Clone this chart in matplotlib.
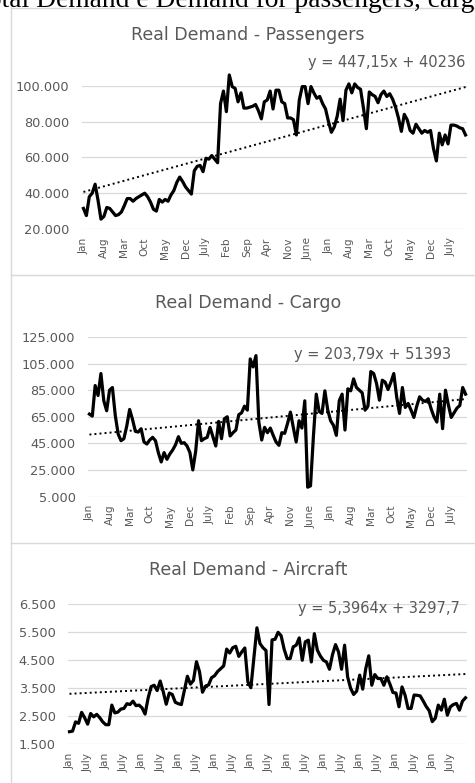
import numpy as np
import matplotlib
matplotlib.use("Agg")
import matplotlib.pyplot as plt
from matplotlib.lines import Line2D

# monthly series, 132 points each
passengers = [31500, 27500, 38000, 40000, 45000, 36000, 25500, 27000, 32000, 31500,
              29500, 27500, 28000, 29500, 33000, 37000, 37000, 35500, 37000, 38000,
              39000, 40000, 38000, 35000, 31000, 30000, 36500, 35000, 36500, 35500,
              39000, 41500, 46000, 49000, 46500, 43500, 41500, 39500, 52500, 55000,
              55500, 52000, 59500, 59000, 61000, 59000, 57000, 90000, 97000, 85500,
              106000, 99500, 98500, 91000, 96000, 87500, 87500, 88000, 88500, 89500,
              86000, 81500, 91000, 92000, 97000, 87000, 97500, 97500, 91000, 90000,
              82000, 82000, 81000, 72500, 92000, 99500, 99500, 90000, 99500, 96000,
              93000, 94000, 90000, 87000, 80000, 74000, 77000, 83000, 92500, 80500,
              97500, 101000, 96000, 101000, 99000, 98000, 87500, 76000, 96500, 95000,
              94000, 90500, 95000, 97000, 94000, 95500, 92500, 88000, 82000, 74500,
              84000, 81000, 75000, 73500, 78500, 76000, 73500, 75000, 74000, 75000,
              65000, 58000, 73500, 67000, 72500, 67500, 78000, 78000, 77500, 76500,
              76000, 72500]

cargo = [67000, 65500, 88500, 81000, 97500, 77000, 69500, 85000, 87000, 66000,
         52000, 47000, 48500, 58000, 70500, 63000, 54000, 53500, 56000, 46000,
         44500, 47500, 49500, 47000, 38000, 31000, 38000, 33000, 37000, 40000,
         44000, 50000, 45000, 45500, 43000, 38000, 25000, 39000, 62000, 47000,
         48500, 49500, 57000, 50000, 43000, 61500, 48500, 63500, 65000, 50500,
         53000, 55000, 66500, 68000, 73000, 70000, 108500, 102500, 111000, 61000,
         47500, 57000, 53000, 56500, 51000, 46000, 43500, 53000, 52500, 60000,
         68500, 57000, 46000, 62000, 56500, 77000, 12000, 13000, 50000, 82000,
         69000, 67500, 84500, 70000, 62000, 58500, 51000, 77000, 82000, 55000,
         86000, 84500, 93500, 87000, 85000, 83000, 70000, 73000, 99000, 97500,
         90000, 77500, 92500, 91000, 85500, 91000, 97500, 80000, 67500, 87000,
         72000, 75000, 70000, 64500, 73000, 80000, 77500, 76500, 78500, 71000,
         65000, 61000, 82000, 56000, 85000, 74000, 64500, 68000, 71500, 73500,
         87000, 82000]

aircraft = [1950, 1970, 2300, 2250, 2640, 2450, 2220, 2600, 2480, 2570,
            2450, 2300, 2200, 2200, 2900, 2620, 2650, 2760, 2780, 2950,
            2920, 3040, 2880, 2900, 2800, 2580, 3150, 3560, 3610, 3420,
            3760, 3380, 2930, 3330, 3280, 3000, 2950, 2920, 3420, 3930,
            3650, 3780, 4450, 4100, 3360, 3580, 3620, 3880, 3950, 4100,
            4200, 4300, 4900, 4760, 4950, 5000, 4640, 4800, 4940, 3730,
            3520, 4600, 5660, 5100, 4950, 4850, 2920, 5230, 5250, 5500,
            5380, 4900, 4560, 4560, 4980, 5040, 5300, 4500, 5160, 5220,
            4440, 5450, 4860, 4650, 4500, 4440, 4180, 4700, 5060, 4800,
            4180, 5040, 3910, 3500, 3280, 3400, 3970, 3470, 4200, 4660,
            3610, 3990, 3850, 3850, 3610, 3910, 3650, 3350, 3330, 2840,
            3550, 3260, 2780, 2780, 3260, 3250, 3230, 3050, 2850, 2700,
            2310, 2430, 2900, 2720, 3110, 2540, 2840, 2920, 2960, 2720,
            3040, 3160]

# month names, labels every 7 (passengers, cargo) and every 6 (aircraft)
months7 = ["Jan", "Aug", "Mar", "Oct", "May", "Dec", "July", "Feb", "Sep", "Apr",
           "Nov", "June", "Jan", "Aug", "Mar", "Oct", "May", "Dec", "July"]
months6 = ["Jan", "July"] * 11

# trend line coefficients (Excel linear trendline, x = 1..n)
trend_p = (447.15, 40236)
trend_c = (203.79, 51393)
trend_a = (5.3964, 3297.7)

titles = ["Real Demand - Passengers", "Real Demand - Cargo", "Real Demand - Aircraft"]
eqs = ["y = 447,15x + 40236", "y = 203,79x + 51393", "y = 5,3964x + 3297,7"]

W, H = 475, 783
fig = plt.figure(figsize=(W / 100, H / 100), dpi=100)
gray = "#595959"
grid = "#d9d9d9"


def px(x0, y0, x1, y1):
    # pixel box (left, top, right, bottom) -> figure rect
    return [x0 / W, 1 - y1 / H, (x1 - x0) / W, (y1 - y0) / H]


def fmt(v):
    return "{:,.0f}".format(v).replace(",", ".")


def panel(rect, data, trend, yticks, step, labels, title, eq, tpos, epos):
    ax = fig.add_axes(rect)
    n = len(data)
    x = np.arange(n)
    ax.plot(x, data, color="black", lw=2.3, solid_joinstyle="round", clip_on=False, zorder=3)
    a, b = trend
    ax.plot(x, a * (x + 1) + b, color="black", lw=1.4, ls=(0, (1, 1.6)), zorder=2)
    ax.set_xlim(-0.5, n - 0.5)
    ax.set_ylim(yticks[0], yticks[-1])
    ax.set_yticks(yticks)
    ax.set_yticklabels([fmt(v) for v in yticks])
    ax.set_xticks(np.arange(0, n, step)[:len(labels)])
    ax.set_xticklabels(labels, rotation=90)
    ax.tick_params(axis="y", length=0, pad=9, labelsize=9.3, labelcolor=gray)
    ax.tick_params(axis="x", length=0, pad=6, labelsize=7.6, labelcolor=gray)
    ax.grid(axis="y", color=grid, lw=0.9)
    ax.set_axisbelow(True)
    for s in ax.spines.values():
        s.set_visible(False)
    fig.text(tpos[0] / W, 1 - tpos[1] / H, title, ha="center", va="center",
             fontsize=12.5, color=gray)
    fig.text(epos[0] / W, 1 - epos[1] / H, eq, ha="right", va="center",
             fontsize=10.5, color=gray)
    return ax


panel(px(82, 85.7, 467, 229), passengers, trend_p, [20000, 40000, 60000, 80000, 100000],
      7, months7, titles[0], eqs[0], (248, 35), (465, 63))
panel(px(88, 337, 467, 496.5), cargo, trend_c, [5000, 25000, 45000, 65000, 85000, 105000, 125000],
      7, months7, titles[1], eqs[1], (248, 303), (451, 355))
panel(px(68, 604.3, 467, 744.3), aircraft, trend_a, [1500, 2500, 3500, 4500, 5500, 6500],
      6, months6, titles[2], eqs[2], (248, 570), (460, 608))

# panel frames
for top, bot in [(8, 275), (275, 543), (543, 800)]:
    fig.add_artist(Line2D([11 / W, 11 / W], [1 - top / H, 1 - bot / H], color=grid, lw=1))
    fig.add_artist(Line2D([11 / W, 1], [1 - top / H, 1 - top / H], color=grid, lw=1))

# cropped caption from the page above
fig.text(-27 / W, 1 - 7 / H, "Total Demand e Demand for passengers, cargo and aircraft",
         ha="left", va="baseline", fontsize=19.8, family="Liberation Serif", color="black")

fig.savefig("out.png", dpi=100)
